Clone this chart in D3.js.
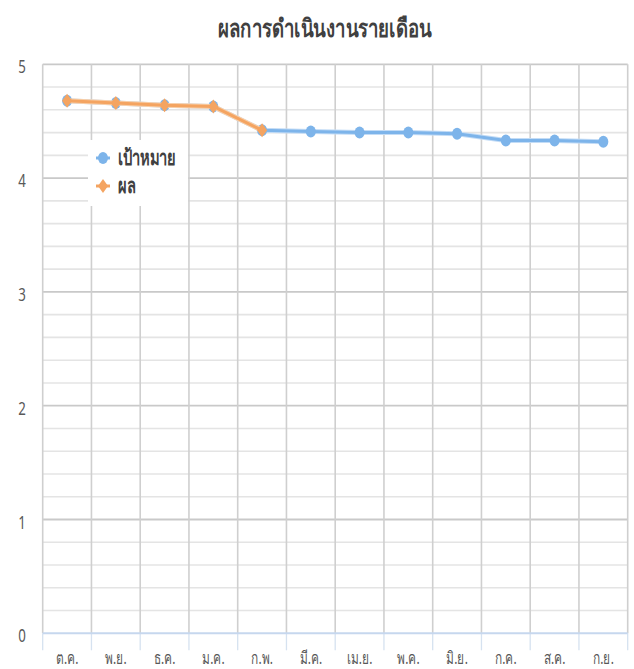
<!DOCTYPE html>
<html><head><meta charset="utf-8">
<script src="https://cdn.jsdelivr.net/npm/d3@7"></script>
<style>body{margin:0;background:#fff}svg{display:block}</style>
</head><body>
<svg id="c" width="634" height="669"></svg>
<script>
const title = "ผลการดำเนินงานรายเดือน";
const months = ["ต.ค.","พ.ย.","ธ.ค.","ม.ค.","ก.พ.","มี.ค.","เม.ย.","พ.ค.","มิ.ย.","ก.ค.","ส.ค.","ก.ย."];
const targetValues = [4.68,4.66,4.64,4.63,4.42,4.41,4.40,4.40,4.39,4.33,4.33,4.32];
const resultValues = [4.68,4.66,4.64,4.63,4.42,null,null,null,null,null,null,null];
const seriesNames = ["เป้าหมาย","ผล"];
const yTicks = [0,1,2,3,4,5];

const BLUE = "#7db4ea", ORANGE = "#f4a461";
const FONT = "'Noto Sans', 'DejaVu Sans', sans-serif";
const SX = 0.7;

const svg = d3.select("#c");
const m = {l:42.7, r:627.7, t:64.3, b:633.3};
const x = d3.scaleBand().domain(months).range([m.l, m.r]);
const y = d3.scaleLinear().domain([0,5]).range([m.b, m.t]);

// minor horizontal grid
const minor = d3.range(0, 5.0001, 0.2).filter(v => Math.abs(v - Math.round(v)) > 1e-6);
svg.append("g").selectAll("line").data(minor).join("line")
  .attr("x1", m.l).attr("x2", m.r).attr("y1", d=>y(d)).attr("y2", d=>y(d))
  .attr("stroke", "#e4e4e4").attr("stroke-width", 1.6);
// major horizontal grid
svg.append("g").selectAll("line").data(yTicks.filter(d=>d>0)).join("line")
  .attr("x1", m.l).attr("x2", m.r).attr("y1", d=>y(d)).attr("y2", d=>y(d))
  .attr("stroke", "#c9c9c9").attr("stroke-width", 1.8);
// vertical grid lines
const vx = months.map(d => x(d)).concat([m.r]);
svg.append("g").selectAll("line").data(vx).join("line")
  .attr("x1", d=>d).attr("x2", d=>d).attr("y1", m.t).attr("y2", m.b)
  .attr("stroke", "#cfcfcf").attr("stroke-width", 1.6);
// tick marks below axis
svg.append("g").selectAll("line").data(vx).join("line")
  .attr("x1", d=>d).attr("x2", d=>d).attr("y1", m.b).attr("y2", m.b + 17)
  .attr("stroke", "#d6e2f0").attr("stroke-width", 1.3);
// x axis line
svg.append("line").attr("x1", m.l).attr("x2", m.r).attr("y1", m.b).attr("y2", m.b)
  .attr("stroke", "#c6d7ee").attr("stroke-width", 2);

// y labels
svg.append("g").selectAll("text").data(yTicks).join("text")
  .attr("transform", d => `translate(22,${y(d)+9}) scale(${SX},1)`)
  .attr("text-anchor", "middle").attr("font-family", FONT).attr("font-size", 19)
  .attr("fill", "#595959").text(d => d);

// x labels
svg.append("g").selectAll("text").data(months).join("text")
  .attr("transform", d => `translate(${x(d)+x.bandwidth()/2},664) scale(${SX},1)`)
  .attr("text-anchor", "middle").attr("font-family", FONT).attr("font-size", 17)
  .attr("fill", "#595959").text(d => d);

// title
svg.append("text").attr("x", 325).attr("y", 37).attr("text-anchor", "middle")
  .attr("font-family", FONT).attr("font-size", 25).attr("font-weight", "bold")
  .attr("fill", "#404040").attr("textLength", 214).attr("lengthAdjust", "spacingAndGlyphs")
  .text(title);

const cx = d => x(d) + x.bandwidth()/2;
const tData = months.map((d,i)=>({m:d, v:targetValues[i]}));
const rData = months.map((d,i)=>({m:d, v:resultValues[i]})).filter(d=>d.v!=null);
const line = d3.line().x(d=>cx(d.m)).y(d=>y(d.v));

// target series
svg.append("path").datum(tData).attr("d", line).attr("fill","none")
  .attr("stroke", "#c3dcf6").attr("stroke-width", 5).attr("stroke-linejoin","round");
svg.append("path").datum(tData).attr("d", line).attr("fill","none")
  .attr("stroke", BLUE).attr("stroke-width", 3).attr("stroke-linejoin","round");
svg.append("g").selectAll("ellipse").data(tData).join("ellipse")
  .attr("cx", d=>cx(d.m)).attr("cy", d=>y(d.v)).attr("rx", 5).attr("ry", 6).attr("fill", BLUE);

// result series
svg.append("path").datum(rData).attr("d", line).attr("fill","none")
  .attr("stroke", "#f8cfa9").attr("stroke-width", 5).attr("stroke-linejoin","round");
svg.append("path").datum(rData).attr("d", line).attr("fill","none")
  .attr("stroke", ORANGE).attr("stroke-width", 3).attr("stroke-linejoin","round");
const diamond = (px,py,w,h) => `M${px},${py-h}L${px+w},${py}L${px},${py+h}L${px-w},${py}Z`;
svg.append("g").selectAll("path").data(rData).join("path")
  .attr("d", d => diamond(cx(d.m), y(d.v), 5, 7)).attr("fill", ORANGE);

// legend
const lg = svg.append("g");
lg.append("rect").attr("x", 88).attr("y", 140).attr("width", 100).attr("height", 66).attr("fill", "#fff");
const legendItems = [{name: seriesNames[0], color: BLUE, shape: "c", yy: 158},
                     {name: seriesNames[1], color: ORANGE, shape: "d", yy: 186}];
legendItems.forEach(it => {
  lg.append("line").attr("x1", 96).attr("x2", 110).attr("y1", it.yy).attr("y2", it.yy)
    .attr("stroke", it.color).attr("stroke-width", 3);
  if (it.shape === "c") lg.append("ellipse").attr("cx", 103).attr("cy", it.yy).attr("rx", 5).attr("ry", 6).attr("fill", it.color);
  else lg.append("path").attr("d", diamond(103, it.yy, 5, 7)).attr("fill", it.color);
  lg.append("text").attr("transform", `translate(118,${it.yy+7}) scale(${SX},1)`)
    .attr("font-family", FONT).attr("font-size", 21).attr("font-weight", "bold")
    .attr("fill", "#404040").text(it.name);
});
</script>
</body></html>
